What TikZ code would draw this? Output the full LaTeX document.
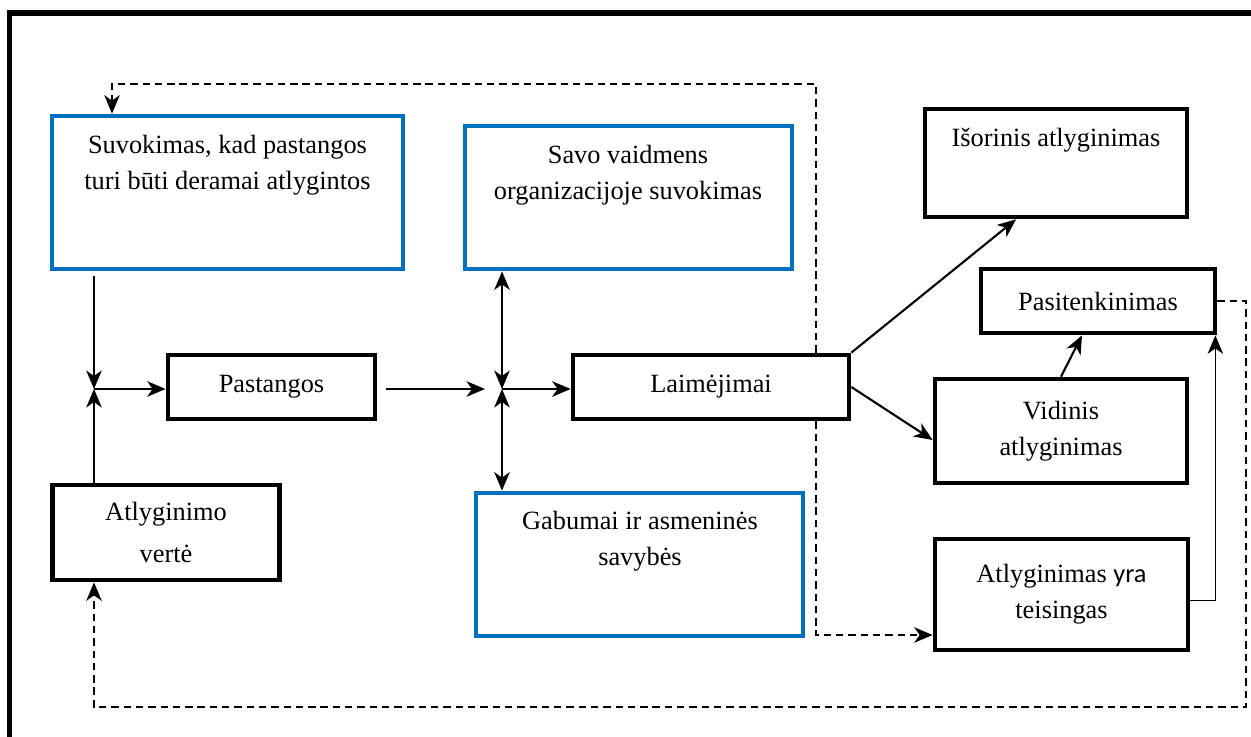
\documentclass[tikz,border=0pt]{standalone}
\usepackage{fontspec}
\setmainfont{Liberation Serif}
\newfontfamily\carlito{Carlito}
\usepackage{tikz}
\usetikzlibrary{arrows.meta,calc}
\definecolor{boxblue}{RGB}{0,112,192}
\tikzset{
	>={Stealth[length=0.37cm,width=0.31cm,inset=0.11cm]},
	box/.style={draw=black,line width=2.7pt,align=center,inner sep=0pt,font=\fontsize{15}{20.5}\selectfont},
	bluebox/.style={box,draw=boxblue},
	txt/.style={align=center,inner sep=0pt,anchor=north,font=\fontsize{15}{20.5}\selectfont},
	conn/.style={line width=1.2pt},
	dashconn/.style={line width=1.1pt,dash pattern=on 4.2pt off 2.8pt},
}
\begin{document}
\begin{tikzpicture}[x=0.02cm,y=-0.02cm]
	\useasboundingbox (0,0) rectangle (1251,737);
	\draw[line width=3.2pt] (9.5,737) -- (9.5,13) -- (1251,13);

	\node[bluebox,minimum width=7.02cm,minimum height=3.06cm] (suv) at (227.5,192.5) {};
	\node[txt] (suvtxt) at (227.5,135) {Suvokimas, kad pastangos\\turi būti deramai atlygintos};
	\node[bluebox,minimum width=6.54cm,minimum height=2.86cm] (savo) at (628.5,197.5) {};
	\node[txt] (savotxt) at (628,145) {Savo vaidmens\\organizacijoje suvokimas};
	\node[bluebox,minimum width=6.54cm,minimum height=2.86cm] (gab) at (639.5,564.5) {};
	\node[txt] (gabtxt) at (640,511) {Gabumai ir asmeninės\\savybės};
	\node[box,minimum width=5.24cm,minimum height=2.16cm] (isor) at (1056,163) {};
	\node[txt] (isortxt) at (1056,128) {Išorinis atlyginimas};

	\node[box,minimum width=4.14cm,minimum height=1.28cm] (pastangos) at (271.5,387) {Pastangos};
	\node[box,minimum width=5.52cm,minimum height=1.28cm] (laim) at (711,387) {Laimėjimai};
	\node[box,minimum width=4.68cm,minimum height=1.28cm] (pasit) at (1098,301) {Pasitenkinimas};
	\node[box,minimum width=5.04cm,minimum height=2.08cm] (vid) at (1061,431) {Vidinis\\atlyginimas};
	\node[box,minimum width=5.06cm,minimum height=2.22cm] (teis) at (1061.5,594.5) {Atlyginimas {\carlito yra}\\teisingas};
	\node[box,minimum width=4.54cm,minimum height=1.9cm] (vert) at (166,532.5) {Atlyginimo\\[3.4pt]vertė};

	\coordinate (j1) at (94,389);
	\coordinate (j2) at (502,389);
	\coordinate (fbx) at (816,84);
	\coordinate (fbl) at (112,84);
	\coordinate (fbb) at (816,635);
	\coordinate (rb) at (1246,707);
	\coordinate (lb) at (94,707);

	\draw[conn,->,shorten <=0.1cm] (suv.south -| j1) -- (j1);
	\draw[conn,->] (vert.north -| j1) -- (j1);
	\draw[conn,->] (j1) -- (pastangos.west |- j1);
	\draw[conn,->,shorten <=0.18cm,shorten >=0.34cm] (pastangos.east |- j2) -- (j2);
	\draw[conn,<->] (savo.south -| j2) -- (j2);
	\draw[conn,<->] (j2) -- (gab.north -| j2);
	\draw[conn,->] (j2) -- (laim.west |- j2);
	\draw[conn,->] (laim.north east) -- ($(isor.south west)!0.35!(isor.south east)$);
	\draw[conn,->] (laim.east) -- ($(vid.west)+(0,9)$);
	\draw[conn,->] (vid.north) -- ($(pasit.south)+(-16,0)$);
	\draw[line width=0.75pt,->] ($(teis.east)+(0,6)$) -| ($(pasit.south east)+(-2,0)$);

	\draw[dashconn,->] (laim.north -| fbx) -- (fbx) -- (fbl) -- (suv.north -| fbl);
	\draw[dashconn,->] (laim.south -| fbb) -- (fbb) -- (teis.west |- fbb);
	\draw[dashconn,->] (pasit.east) -| (rb) -- (lb) -- (vert.south -| lb);

\end{tikzpicture}
\end{document}
